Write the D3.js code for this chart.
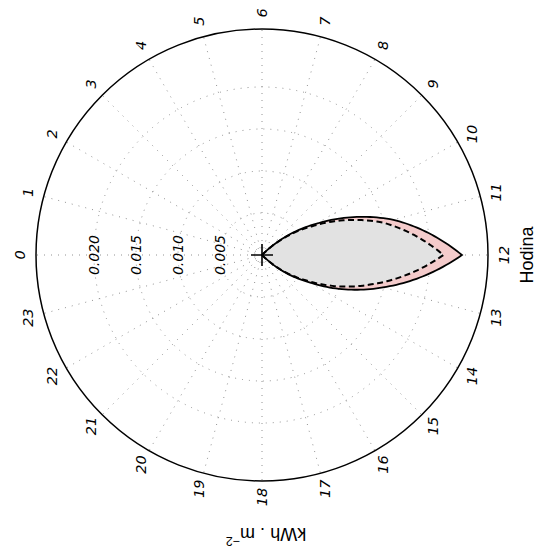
<!DOCTYPE html>
<html>
<head>
<meta charset="utf-8">
<script src="https://cdn.jsdelivr.net/npm/d3@7"></script>
<style>
  body { margin: 0; background: #fff; }
  text { fill: #000; }
</style>
</head>
<body>
<svg id="chart" width="540" height="556"></svg>
<script>
// Hourly energy per square metre over one day
const hours = d3.range(24);
const hourLabels = hours.map(String);
const totalEnergy  = [0, 0, 0, 0, 0, 0, 0, 0, 0, 0, 0.0074, 0.0162, 0.0238, 0.0149, 0.0065, 0, 0, 0, 0, 0, 0, 0, 0, 0];
const directEnergy = [0, 0, 0, 0, 0, 0, 0, 0, 0, 0, 0.0068, 0.0149, 0.0216, 0.0135, 0.0060, 0, 0, 0, 0, 0, 0, 0, 0, 0];
const radialTicks = [0.005, 0.010, 0.015, 0.020];
const radialTickLabels = ["0.005", "0.010", "0.015", "0.020"];
const rMax = 0.0269;

const svg = d3.select("#chart");
const cx = 262, cy = 255, R = 226;

const r = d3.scaleLinear().domain([0, rMax]).range([0, R]);
// hour 6 at the top, hour 12 on the right, hour 0 on the left
const angle = d3.scaleLinear().domain([0, 24]).range([-Math.PI / 2, 3 * Math.PI / 2]);

const g = svg.append("g").attr("transform", `translate(${cx},${cy})`);

// Polar segments: angle and radius change linearly between hourly samples
function polarSegments(values) {
  const pts = [];
  const steps = 24;
  for (let i = 0; i < values.length; i++) {
    const j = (i + 1) % values.length;
    for (let k = 0; k < steps; k++) {
      const t = k / steps;
      pts.push({ h: i + t, v: values[i] + (values[j] - values[i]) * t });
    }
  }
  pts.push({ h: values.length, v: values[0] });
  return pts;
}

const gridStyle = sel => sel
  .attr("fill", "none")
  .attr("stroke", "#777")
  .attr("stroke-width", 0.8)
  .attr("stroke-dasharray", "1,6");

// radial grid
g.append("g").selectAll("line").data(hours).join("line")
  .attr("x1", 0).attr("y1", 0)
  .attr("x2", d => r(rMax) * Math.sin(angle(d)))
  .attr("y2", d => -r(rMax) * Math.cos(angle(d)))
  .call(gridStyle);

// circular grid
g.append("g").selectAll("circle").data(radialTicks).join("circle")
  .attr("r", d => r(d))
  .call(gridStyle);

// filled areas
const area = d3.areaRadial()
  .angle(d => angle(d.h))
  .innerRadius(0)
  .outerRadius(d => r(d.v));
const line = d3.lineRadial()
  .angle(d => angle(d.h))
  .radius(d => r(d.v));

g.append("path").datum(polarSegments(totalEnergy))
  .attr("d", area).attr("fill", "#f4cbcb").attr("stroke", "none");
g.append("path").datum(polarSegments(directEnergy))
  .attr("d", area).attr("fill", "#e2e2e2").attr("stroke", "none");

g.append("path").datum(polarSegments(directEnergy))
  .attr("d", line).attr("fill", "none").attr("stroke", "#000")
  .attr("stroke-width", 2).attr("stroke-dasharray", "6,3.5");
g.append("path").datum(polarSegments(totalEnergy))
  .attr("d", line).attr("fill", "none").attr("stroke", "#000")
  .attr("stroke-width", 1.8).attr("stroke-linejoin", "miter");

// centre marker
g.append("path").attr("d", "M-11,0H11M0,-11V11")
  .attr("stroke", "#000").attr("stroke-width", 1.6);

// outer spine
g.append("circle").attr("r", R).attr("fill", "none")
  .attr("stroke", "#000").attr("stroke-width", 1.5);

// radial tick labels along the hour-0 direction
g.append("g").selectAll("text").data(radialTicks).join("text")
  .attr("transform", d => `translate(${-r(d)},0) rotate(-90)`)
  .attr("text-anchor", "middle")
  .attr("dominant-baseline", "central")
  .attr("font-family", "DejaVu Sans")
  .attr("font-style", "italic")
  .attr("font-size", 14)
  .text((d, i) => radialTickLabels[i]);

// hour labels
const labelR = 242;
g.append("g").selectAll("text").data(hours).join("text")
  .attr("transform", d => `translate(${labelR * Math.sin(angle(d))},${-labelR * Math.cos(angle(d))}) rotate(-90)`)
  .attr("text-anchor", "middle")
  .attr("dominant-baseline", "central")
  .attr("font-family", "DejaVu Sans")
  .attr("font-style", "italic")
  .attr("font-size", 14.5)
  .text((d, i) => hourLabels[i]);

// axis titles
svg.append("text")
  .attr("transform", "translate(527,255) rotate(-90)")
  .attr("text-anchor", "middle")
  .attr("dominant-baseline", "central")
  .attr("font-family", "Liberation Sans")
  .attr("font-size", 18)
  .text("Hodina");

const unit = svg.append("text")
  .attr("transform", "translate(266,534) rotate(180)")
  .attr("text-anchor", "middle")
  .attr("dominant-baseline", "central")
  .attr("font-family", "Liberation Sans")
  .attr("font-size", 18);
unit.append("tspan").text("kWh . m");
unit.append("tspan").attr("dy", -7).attr("font-size", 12.5).text("\u22122");
</script>
</body>
</html>
